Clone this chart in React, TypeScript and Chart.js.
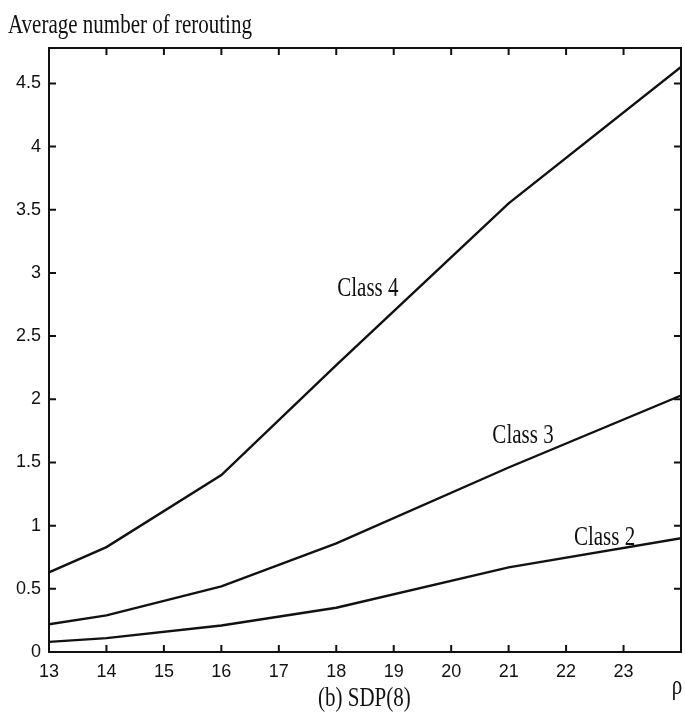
import React, { useEffect, useRef } from "react";
import { Chart, registerables } from "chart.js";

Chart.register(...registerables);

const rho = [13, 14, 16, 18, 21, 24];
const class4 = [0.63, 0.83, 1.4, 2.27, 3.55, 4.63];
const class3 = [0.22, 0.29, 0.52, 0.86, 1.46, 2.03];
const class2 = [0.08, 0.11, 0.21, 0.35, 0.67, 0.9];

const xTicks = [13, 14, 15, 16, 17, 18, 19, 20, 21, 22, 23];
const yTicks = [0, 0.5, 1, 1.5, 2, 2.5, 3, 3.5, 4, 4.5];

const seriesNames = ["Class 4", "Class 3", "Class 2"];
const labelX = [18.55, 21.25, 22.67];
const labelY = [2.87, 1.71, 0.9];

const yTitle = "Average number of rerouting";
const xTitle = "(b) SDP(8)";
const xSymbol = "ρ";

const SERIF = "'Liberation Serif', 'Times New Roman', serif";
const SANS = "'Liberation Sans', Arial, sans-serif";

const decorPlugin = {
  id: "decor",
  afterDraw(chart: any) {
    const { ctx, chartArea: a, scales } = chart;
    const xs = scales.x;
    const ys = scales.y;
    ctx.save();
    ctx.strokeStyle = "#111";
    ctx.fillStyle = "#111";
    ctx.lineWidth = 2;
    ctx.strokeRect(a.left, a.top, a.right - a.left, a.bottom - a.top);
    const tl = 7;
    ctx.beginPath();
    xTicks.forEach((v) => {
      const px = xs.getPixelForValue(v);
      ctx.moveTo(px, a.bottom);
      ctx.lineTo(px, a.bottom - tl);
      ctx.moveTo(px, a.top);
      ctx.lineTo(px, a.top + tl);
    });
    yTicks.forEach((v) => {
      const py = ys.getPixelForValue(v);
      ctx.moveTo(a.left, py);
      ctx.lineTo(a.left + tl, py);
      ctx.moveTo(a.right, py);
      ctx.lineTo(a.right - tl, py);
    });
    ctx.stroke();

    const drawText = (t: string, x: number, y: number, size: number, align: CanvasTextAlign, base: CanvasTextBaseline) => {
      ctx.save();
      ctx.translate(x, y);
      ctx.scale(1, 1.25);
      ctx.font = `${size}px ${SERIF}`;
      ctx.textAlign = align;
      ctx.textBaseline = base;
      ctx.fillText(t, 0, 0);
      ctx.restore();
    };

    seriesNames.forEach((n, i) => {
      drawText(n, xs.getPixelForValue(labelX[i]), ys.getPixelForValue(labelY[i]), 21, "center", "middle");
    });
    drawText(yTitle, 8, 33, 21, "left", "alphabetic");
    drawText(xTitle, 318, 706, 21, "left", "alphabetic");
    drawText(xSymbol, 677, 694, 21, "center", "alphabetic");
    ctx.restore();
  },
};

export default function App() {
  const ref = useRef<HTMLCanvasElement | null>(null);
  useEffect(() => {
    if (!ref.current) return;
    const mk = (d: number[]) => ({
      data: rho.map((x, i) => ({ x, y: d[i] })),
      borderColor: "#111",
      borderWidth: 2.4,
      pointRadius: 0,
      fill: false,
      tension: 0,
    });
    const chart = new Chart(ref.current, {
      type: "line",
      data: {
        datasets: [
          { label: seriesNames[0], ...mk(class4) },
          { label: seriesNames[1], ...mk(class3) },
          { label: seriesNames[2], ...mk(class2) },
        ],
      },
      options: {
        responsive: false,
        animation: false,
        layout: { padding: { top: 48, right: 4, left: 0, bottom: 0 } },
        plugins: { legend: { display: false }, tooltip: { enabled: false } },
        scales: {
          x: {
            type: "linear",
            min: 13,
            max: 24,
            grid: { display: false, drawTicks: false },
            border: { display: false },
            afterBuildTicks: (s: any) => {
              s.ticks = xTicks.map((v) => ({ value: v }));
            },
            afterFit: (s: any) => {
              s.height = 63;
            },
            ticks: {
              padding: 9,
              color: "#111",
              font: { family: SANS, size: 18 },
              maxRotation: 0,
              callback: (v: any) => String(v),
            },
          },
          y: {
            type: "linear",
            min: 0,
            max: 4.78,
            grid: { display: false, drawTicks: false },
            border: { display: false },
            afterBuildTicks: (s: any) => {
              s.ticks = yTicks.map((v) => ({ value: v }));
            },
            afterFit: (s: any) => {
              s.width = 49;
            },
            ticks: {
              padding: 8,
              color: "#111",
              font: { family: SANS, size: 18 },
              callback: (v: any) => String(v),
            },
          },
        },
      },
      plugins: [decorPlugin],
    });
    return () => chart.destroy();
  }, []);
  return (
    <div style={{ position: "absolute", left: 0, top: 0, width: 685, height: 715, background: "#fff" }}>
      <canvas ref={ref} width={685} height={715} />
    </div>
  );
}
